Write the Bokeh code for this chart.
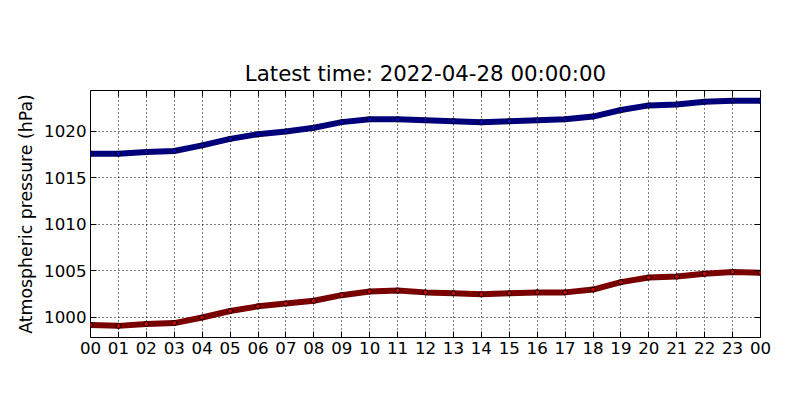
from bokeh.plotting import figure
from bokeh.models import FixedTicker, LinearAxis, Range1d, Legend, LegendItem
from bokeh.embed import file_html
from bokeh.resources import INLINE

hours = list(range(25))
hour_labels = ["%02d" % (h % 24) for h in hours]
msl = [1017.6, 1017.6, 1017.8, 1017.9, 1018.5, 1019.2, 1019.7, 1020.0, 1020.4, 1021.0,
       1021.3, 1021.3, 1021.2, 1021.1, 1021.0, 1021.1, 1021.2, 1021.3, 1021.6, 1022.3,
       1022.8, 1022.9, 1023.2, 1023.3, 1023.3]
surface = [999.2, 999.1, 999.3, 999.4, 1000.0, 1000.7, 1001.2, 1001.5, 1001.8, 1002.4,
           1002.8, 1002.9, 1002.7, 1002.6, 1002.5, 1002.6, 1002.7, 1002.7, 1003.0, 1003.8,
           1004.3, 1004.4, 1004.7, 1004.9, 1004.8]
y_ticks = [1000, 1005, 1010, 1015, 1020]
FONT = "DejaVu Sans"

p = figure(frame_width=670, frame_height=247, output_backend="svg", toolbar_location=None,
           x_range=Range1d(0, 24), y_range=Range1d(997.85, 1024.4),
           min_border_left=90, min_border_right=24, min_border_top=90, min_border_bottom=30)
p.title.text = "Latest time: 2022-04-28 00:00:00"
p.title.align = "center"
p.title.text_font = FONT
p.title.text_font_size = "16pt"
p.title.text_font_style = "normal"
p.title.text_color = "black"
p.outline_line_color = "black"

p.line(hours, surface, line_width=6, color="#7a0000")
p.line(hours, msl, line_width=6, color="#00007a")
r1 = p.scatter(hours, surface, size=5, fill_color="#cc0000", line_color="black")
r2 = p.scatter(hours, msl, size=5, fill_color="#0000cc", line_color="black")

legend = Legend(items=[LegendItem(label="Surface pressure (1004.8 hPa)", renderers=[r1]),
                       LegendItem(label="Mean sea level pressure (1023.2 hPa)", renderers=[r2])],
                location=(117, 258), label_text_font=FONT, label_text_font_size="14pt",
                label_text_color="black", border_line_color="black", spacing=4,
                glyph_width=36, padding=8, margin=0)
p.add_layout(legend, "center")

for ax in p.xaxis:
    ax.ticker = FixedTicker(ticks=hours)
    ax.major_label_overrides = {h: l for h, l in zip(hours, hour_labels)}
for ax in p.yaxis:
    ax.ticker = FixedTicker(ticks=y_ticks)
    ax.axis_label = "Atmospheric pressure (hPa)"
    ax.axis_label_text_font_style = "normal"
for ax in p.axis:
    ax.major_label_text_font = FONT
    ax.major_label_text_font_size = "12.5pt"
    ax.major_label_text_color = "black"
    ax.axis_label_text_font = FONT
    ax.axis_label_text_font_size = "13pt"
    ax.axis_label_text_color = "black"
    ax.major_tick_in = 6
    ax.major_tick_out = 0
    ax.minor_tick_line_color = None
    ax.axis_line_color = None
    ax.major_label_standoff = 4

top = LinearAxis(ticker=FixedTicker(ticks=hours), major_label_text_color=None,
                 major_label_text_font_size="1pt",
                 major_tick_in=6, major_tick_out=0, axis_line_color=None, minor_tick_line_color=None)
right = LinearAxis(ticker=FixedTicker(ticks=y_ticks), major_label_text_color=None,
                   major_label_text_font_size="1pt",
                   major_tick_in=6, major_tick_out=0, axis_line_color=None, minor_tick_line_color=None)
p.add_layout(top, "above")
p.add_layout(right, "right")

p.grid.grid_line_color = "black"
p.grid.grid_line_dash = "1 3"
p.xgrid.ticker = FixedTicker(ticks=hours)
p.ygrid.ticker = FixedTicker(ticks=y_ticks)

open("out.html", "w").write(file_html(p, INLINE))
